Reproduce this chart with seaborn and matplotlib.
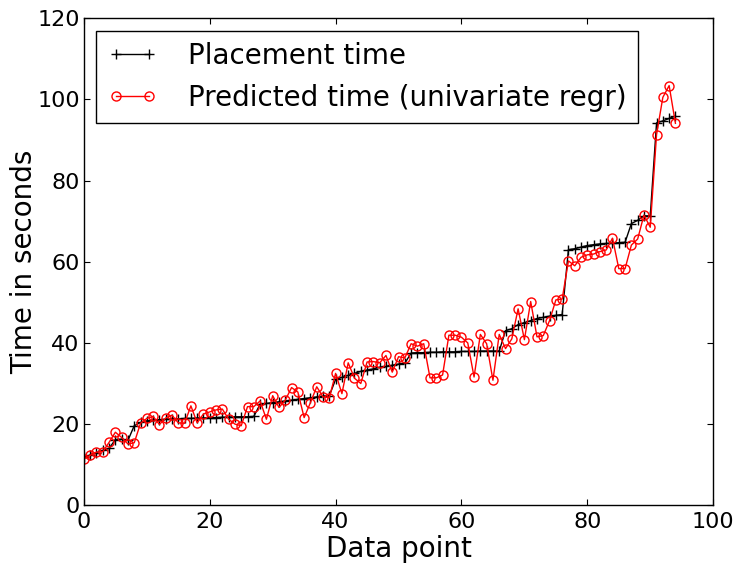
import numpy as np
import pandas as pd
import matplotlib
matplotlib.use("Agg")
import matplotlib.pyplot as plt
import seaborn as sns

# values
placement = [11.8, 12.4, 13.0, 13.5, 14.0, 16.2, 16.3, 16.0, 19.6, 20.4,
             20.8, 21.0, 21.1, 21.2, 21.3, 21.3, 21.4, 21.4, 21.5, 21.5,
             21.6, 21.6, 21.7, 21.7, 21.8, 21.8, 21.8, 21.9, 24.9, 25.1,
             25.3, 25.5, 25.7, 25.9, 26.1, 26.3, 26.5, 26.7, 26.9, 27.0,
             31.0, 31.5, 32.0, 32.5, 33.0, 33.3, 33.6, 34.0, 34.2, 34.5,
             34.8, 35.0, 37.5, 37.6, 37.6, 37.7, 37.7, 37.8, 37.8, 37.8,
             37.9, 37.9, 37.9, 38.0, 38.0, 38.0, 38.0, 43.0, 43.5, 44.5,
             45.0, 45.5, 46.0, 46.3, 46.6, 46.8, 47.0, 63.0, 63.2, 63.6,
             64.0, 64.2, 64.4, 64.5, 64.6, 64.7, 64.8, 69.4, 70.2, 71.3,
             71.3, 94.2, 94.7, 95.3, 95.9]
predicted = [11.4, 12.3, 13.1, 13.2, 15.5, 18.0, 16.7, 15.1, 15.4, 20.2,
             21.4, 21.9, 19.9, 21.5, 22.2, 20.3, 20.2, 24.5, 20.3, 22.5,
             23.0, 23.5, 23.7, 21.2, 20.0, 19.6, 24.3, 24.3, 25.7, 21.2,
             27.0, 24.1, 25.9, 29.0, 27.9, 21.6, 25.3, 29.2, 26.7, 26.5,
             32.5, 27.5, 35.1, 31.3, 30.0, 35.3, 35.4, 35.1, 36.9, 32.8,
             36.6, 36.3, 39.8, 39.2, 39.8, 31.4, 31.4, 32.1, 41.9, 41.9,
             41.4, 40.0, 31.6, 42.1, 39.8, 30.8, 42.1, 38.6, 41.0, 48.4,
             40.8, 50.2, 41.5, 41.8, 45.5, 50.6, 50.8, 60.2, 59.0, 61.1,
             61.7, 61.9, 62.5, 62.9, 65.8, 58.3, 58.3, 64.1, 65.6, 71.5,
             68.5, 91.3, 100.5, 103.4, 94.1]
points = list(range(len(placement)))

df = pd.DataFrame({"point": points, "placement": placement, "predicted": predicted})

plt.rcParams.update({
    "xtick.direction": "in", "ytick.direction": "in",
    "xtick.top": True, "ytick.right": True,
    "xtick.major.size": 4, "ytick.major.size": 4,
    "xtick.major.pad": 5, "ytick.major.pad": 3,
    "xtick.labelsize": 16, "ytick.labelsize": 16,
})

fig, ax = plt.subplots(figsize=(7.36, 5.69), dpi=100)
fig.subplots_adjust(left=0.114, right=0.969, top=0.968, bottom=0.112)

sns.lineplot(data=df, x="point", y="placement", ax=ax, color="black",
             marker="+", markersize=7, markeredgecolor="black",
             markeredgewidth=1, linewidth=1, label="Placement time")
sns.lineplot(data=df, x="point", y="predicted", ax=ax, color="red",
             marker="o", markersize=6.5, markerfacecolor="none",
             markeredgecolor="red", markeredgewidth=1, linewidth=1,
             label="Predicted time (univariate regr)")

ax.set_xlim(0, 100)
ax.set_ylim(0, 120)
ax.set_xticks(range(0, 101, 20))
ax.set_yticks(range(0, 121, 20))
ax.set_xlabel("Data point", fontsize=20, labelpad=2)
ax.set_ylabel("Time in seconds", fontsize=20, labelpad=-1)
for s in ax.spines.values():
    s.set_linewidth(1)
leg = ax.legend(loc="upper left", numpoints=2, fontsize=20, fancybox=False,
                framealpha=1, edgecolor="black", handlelength=1.8,
                handletextpad=1.1, borderaxespad=0.45)
leg.get_frame().set_linewidth(1)

plt.savefig("out.png", dpi=100)
